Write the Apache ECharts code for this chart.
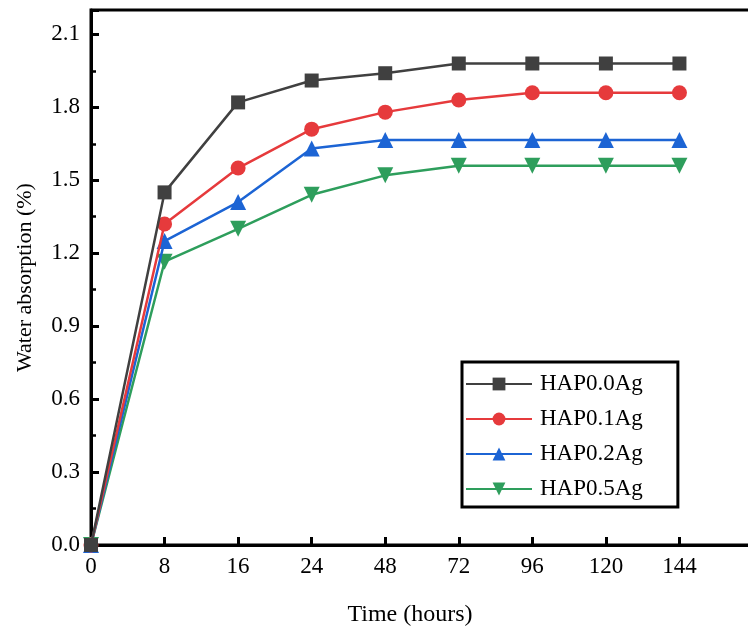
<!DOCTYPE html>
<html>
<head>
<meta charset="utf-8">
<script src="https://cdn.jsdelivr.net/npm/echarts@6/dist/echarts.min.js"></script>
<style>
  html, body { margin: 0; padding: 0; background: #fff; }
  #chart { width: 748px; height: 630px; }
</style>
</head>
<body>
<div id="chart"></div>
<script>
// time points (hours), evenly spaced on the axis
var hours = ['0', '8', '16', '24', '48', '72', '96', '120', '144'];
var yTicks = [0, 0.3, 0.6, 0.9, 1.2, 1.5, 1.8, 2.1];

// water absorption (%)
var hap00 = [0, 1.45, 1.82, 1.91, 1.94, 1.98, 1.98, 1.98, 1.98];
var hap01 = [0, 1.32, 1.55, 1.71, 1.78, 1.83, 1.86, 1.86, 1.86];
var hap02 = [0, 1.25, 1.41, 1.63, 1.665, 1.665, 1.665, 1.665, 1.665];
var hap05 = [0, 1.165, 1.30, 1.44, 1.52, 1.56, 1.56, 1.56, 1.56];

var names = ['HAP0.0Ag', 'HAP0.1Ag', 'HAP0.2Ag', 'HAP0.5Ag'];
var colors = ['#404040', '#e63a3c', '#1c64d4', '#2e9e5c'];

var font = 'Liberation Serif';

function pts(arr) {
    return arr.map(function (v, i) { return [i, v]; });
}

var myChart = echarts.init(document.getElementById('chart'));

function mkSeries(idx, data, symbol, size, rot) {
    return {
        name: names[idx],
        type: 'line',
        data: pts(data),
        symbol: symbol,
        symbolSize: size,
        symbolRotate: rot || 0,
        showAllSymbol: true,
        lineStyle: { color: colors[idx], width: 2.5 },
        itemStyle: { color: colors[idx] },
        z: 10 - idx
    };
}

var option = {
    animation: false,
    backgroundColor: '#fff',
    grid: {
        left: 91,
        top: 10,
        width: 662,
        height: 535,
        outerBoundsMode: 'none',
        containLabel: false,
        show: true,
        borderColor: '#000',
        borderWidth: 3
    },
    legend: {
        orient: 'vertical',
        left: 462,
        top: 362,
        padding: [10, 35, 6, 3],
        borderColor: '#000',
        borderWidth: 3,
        itemWidth: 66,
        itemHeight: 16,
        itemGap: 11,
        textStyle: { fontFamily: font, fontSize: 23, color: '#000', lineHeight: 24, padding: [0, 0, 0, 3] },
        data: names
    },
    xAxis: {
        type: 'value',
        min: 0,
        max: 9,
        interval: 1,
        name: 'Time (hours)',
        nameLocation: 'middle',
        nameGap: 58,
        nameTextStyle: { fontFamily: font, fontSize: 24, color: '#000', padding: [0, 24, 0, 0] },
        axisLine: { lineStyle: { color: '#000', width: 3 } },
        axisTick: { inside: true, length: 8, lineStyle: { color: '#000', width: 3 } },
        axisLabel: {
            fontFamily: font, fontSize: 23, color: '#000', margin: 10,
            showMaxLabel: false,
            formatter: function (v) { return hours[v] !== undefined ? hours[v] : ''; }
        },
        splitLine: { show: false }
    },
    yAxis: {
        type: 'value',
        min: 0,
        max: 2.2,
        interval: 0.3,
        name: 'Water absorption (%)',
        nameLocation: 'middle',
        nameGap: 55,
        nameTextStyle: { fontFamily: font, fontSize: 22, color: '#000' },
        axisLine: { lineStyle: { color: '#000', width: 3 } },
        axisTick: { inside: true, length: 8, lineStyle: { color: '#000', width: 3 } },
        minorTick: { show: true, splitNumber: 2, length: 5, lineStyle: { color: '#000', width: 2.5 } },
        axisLabel: {
            fontFamily: font, fontSize: 23, color: '#000', margin: 11,
            showMaxLabel: false,
            formatter: function (v) {
                return yTicks.some(function (t) { return Math.abs(t - v) < 1e-6; }) ? v.toFixed(1) : '';
            }
        },
        splitLine: { show: false }
    },
    series: [
        mkSeries(0, hap00, 'rect', 14),
        mkSeries(1, hap01, 'circle', 15),
        mkSeries(2, hap02, 'triangle', 16),
        mkSeries(3, hap05, 'triangle', 16, 180)
    ]
};

myChart.setOption(option);
</script>
</body>
</html>
